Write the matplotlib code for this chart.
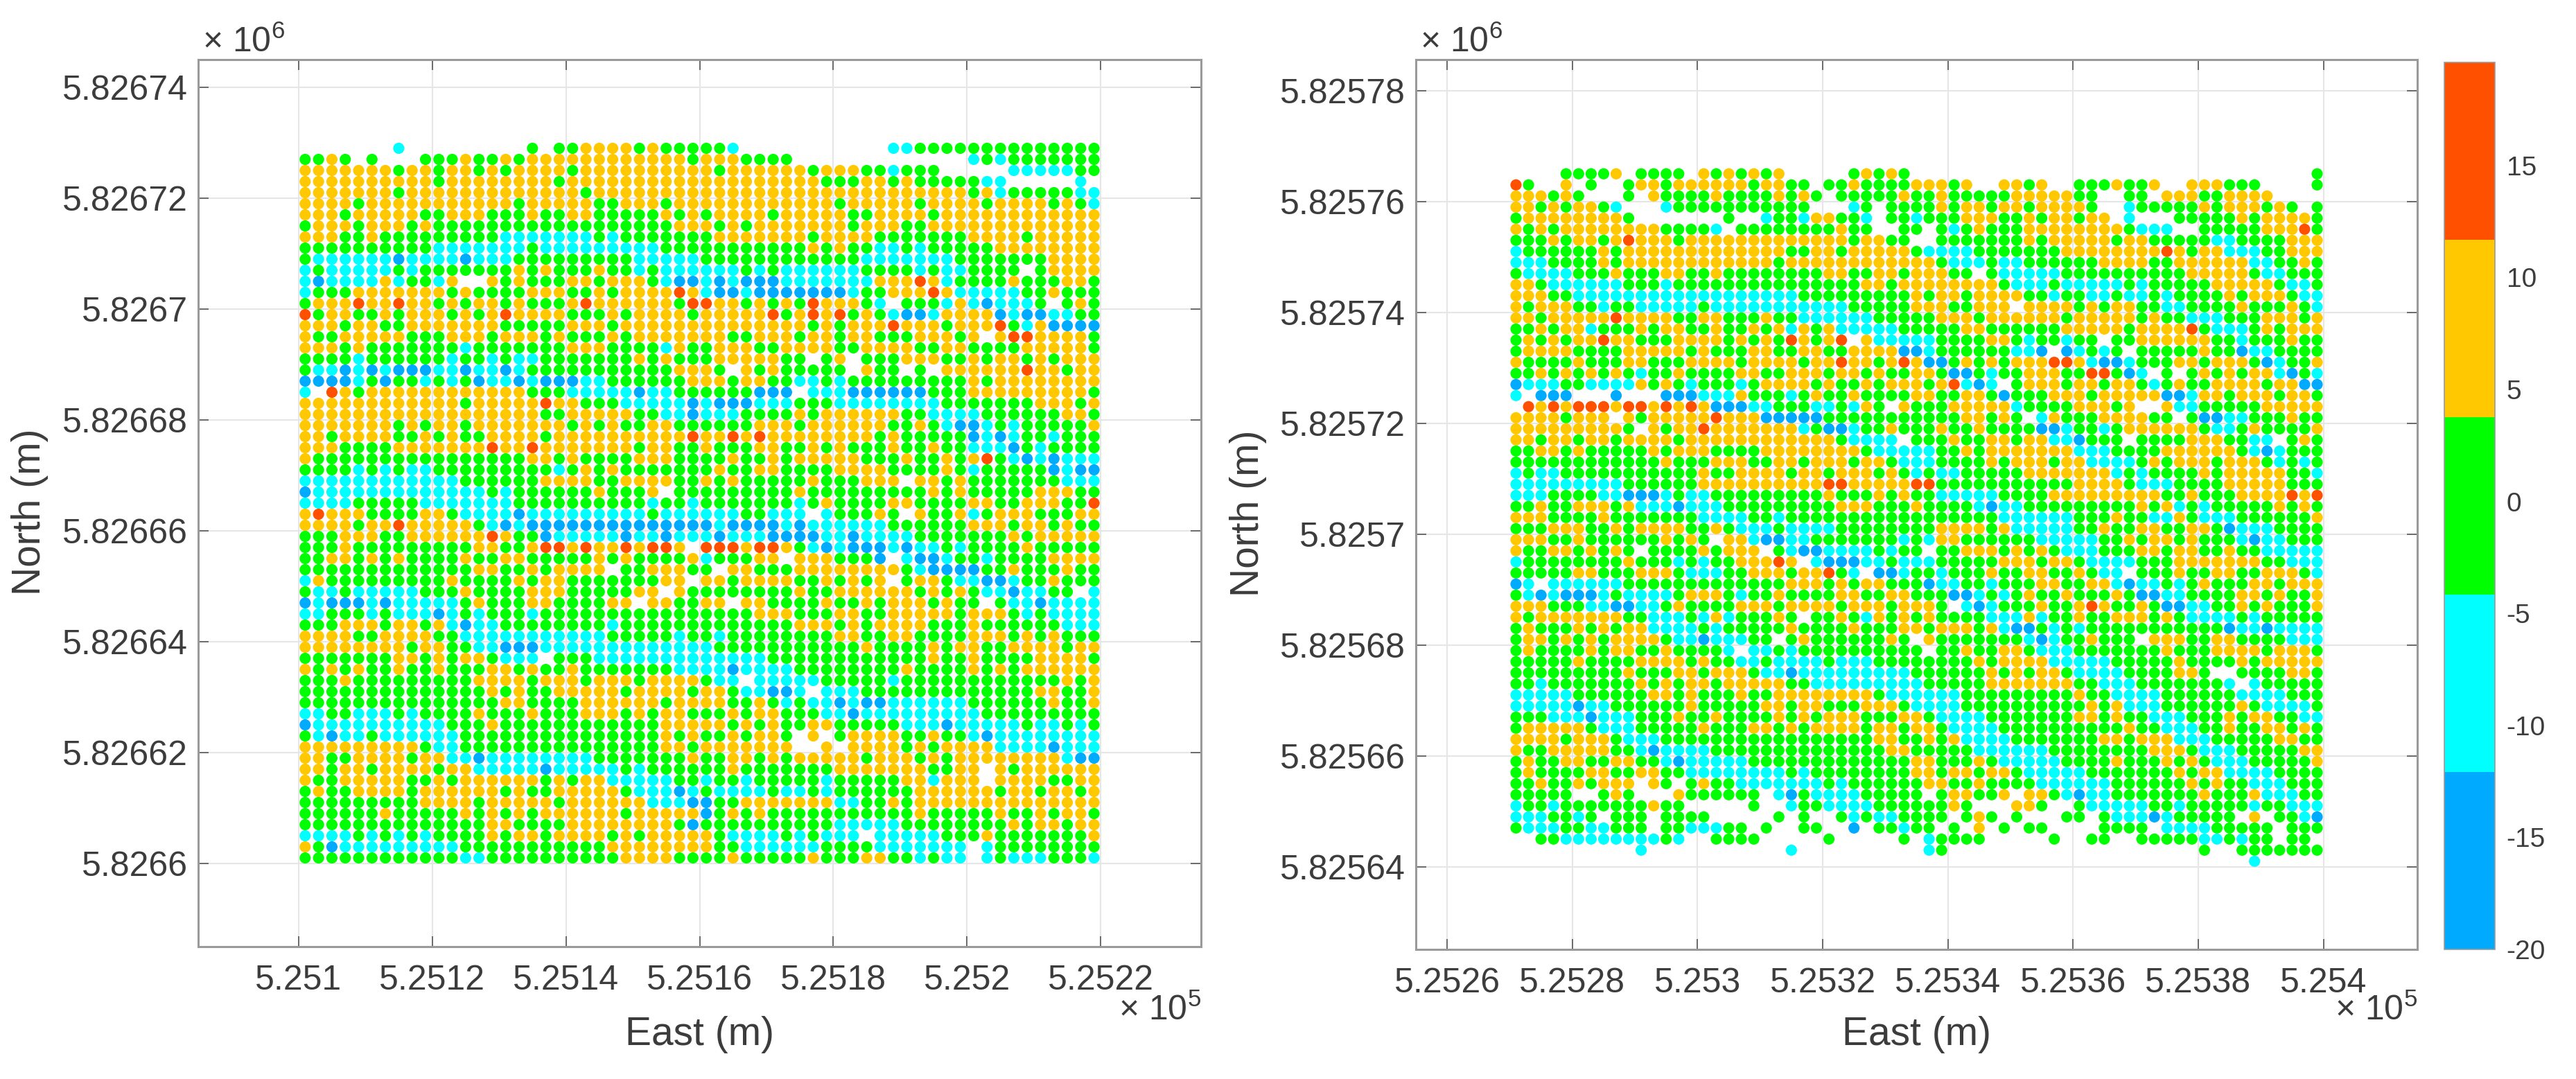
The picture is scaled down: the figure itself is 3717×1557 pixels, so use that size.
import re

import numpy as np
import matplotlib
matplotlib.use("Agg")
import matplotlib.pyplot as plt
from matplotlib.colors import ListedColormap

plt.rcParams["font.family"] = ["Liberation Sans", "DejaVu Sans"]
plt.rcParams["axes.unicode_minus"] = False

# survey rows, north to south, as run lengths per column
# g, y, c, b, r are the colour classes, a dot is a missing point
left_rows = [
    "7.c9.g.2g4ygy3g 2gc11.2c14g",
    "2gyg.g3.3gy2gyg12yg 3y4g13.cgc7g",
    "7yg2yg2ygyg4yg9y yg6yg3y2gc3g5.5c2g",
    "10yg8yg10y 9y3g2ygy5g2c5.c.",
    "7yg13yg8y 20ygyc5g2c",
    "4yg11yg5y2g3yg2y 10yg5yg4yg4ygygc",
    "3yg5y2g3y3gy2g2y5gygy g4yg5y2g4yg12y",
    "g3yg3ygy18g2y ygyg7yg3y2g13y",
    "3y2gy9g7cgc6g g7yg4y7g4yg5y",
    "10g7cg9c3g 8gygy2g2cgc5g8y",
    "g6cb4cb3c9g5c 12g7c7g4y",
    "cg5cgc7gyg y3gy2gcg3c 3cgcg6c4gcg2c4g.g4y",
    "cb4cyc2gcy2.ygy3g2yg3ygc2b cbc3b7c3yryc4gy3g2yg",
    "c3g7ygy4g3y2gyg4yry c2bc7bc2g3yry5c2gy3g",
    "g3yr2yr2ygyg2ygy3gyr6ygr r2ygygygr3ygc.3gcycb3cg.gyg",
    "rg2y2gyg3ygygyr4y3gyg4yg 5yrgyryrgygc2bc4ybc2b2c2g",
    "3yg2y2g7y5g3yg6y 8ygyg3yr3yg3yrgcy4b",
    "y2g5y3g3yg3ygy3gyg5y 2y2g3yg2yg2y3g3ygy.y2r4yg",
    "3ygy7gc7g3y4gcyg g3y2g4y2g4y2g2y4g5yg",
    "4gc6gc2gcg2c7gygy2g g5y2g.gy.3g3y2gyg2ygyg3y",
    "g2cbcbc3b2cb2cbc11g2y yg.ygy5g.y2g.g.6yr2yg2y",
    "4bcgb2gcgcgb2cbc3b2c6gy 2yg2y2g2cgc9gyg8y",
    "c.ryg12y3g5cb2c2g 4g3b.3c6b3g9yg",
    "12yg5yr2y3g5cb c3b3c3g8c7g3ygy",
    "18y2g5y2g2cb 3c4gyg6y2g4c6g2yg",
    "7ygyg2yg7ygygy2g2y2g 4g3yg6y2gygc2bcgc5gy",
    "2yg4y2gygy2g4yg10yr 2yryr8ygy5gbcbc2gc3g",
    "3y4g7yr2yr7yg2y2g y3g2y2gygy3gy2gy2g3cbgc4g",
    "y16g2ygy4g3y2g 2gy2gyg5y3gy2gygyrgcbcb3c",
    "4gcgcg2c9gcgygy6g gy2g2y4g4y4gygc5gbc2b",
    "12c6g4y2g4y2g ygy5gy3g3y.2ygy7g3c",
    "b13cgc6gy3gy.2g 7gy9gygy5g3y2g",
    "4c5g7c10gc2gc 7gcgy4g2y4g2y2g3y2gr",
    "yr3y4g2yg4cb9cg3c 3c2g3c.c3gyg.y2gycg3y3g2y",
    "4yg2yr5ygcbc13b bc4bcb6c6g3yg2ygy2g",
    "3g3y2g6yry2gb5cb2cb2c cb3c4b2cb4c7gyg5y",
    "3gy9g2y2gy2ryr2yry2ry. 3ry2rygcbc3bcb2cgc4gy5g",
    "2g2ygygy4gy2g2y5gygy4gy c3g2y.3y3gb.c2bc2gc4g4y",
    "13g2y2gyg4y.2g3yg g.2y3g8ygc4b2gy3gy2g",
    "cy9gy4gyg2y7g2y. 2yg4y2gygygy.g2yg2c2bc2gy3g",
    "g2cg5c3gy4g3y5g2y.yg 7gy2g6ygygyg2cb2c2g.c",
    "bc3bcb5cgy3g2y4g2y.2y2g 2y.2y4gy2gyg3ygy2g.g2cb4c",
    "2c3gcg3cbcgc3gc12g 4g3y3g2y2g5yg3ygcg4c",
    "3g3yg2ygycb2c8gc6g 7g3ygyg4y3gy6g3c",
    "4y2g4y2g11c5gcg gc8g2y2g2y4g3ygygy3g",
    "8yg2y2g2c3b12c c11gy4gyg2y2g4yg2y",
    "7g2ygyg2yg3c.3g8c 5c12gy2gy4g4yg",
    "ygygy2gy2gy3g2ygy2gy7g2c 2cb4c8gy4gygyg6y",
    "3gy9g4yg3yg3yg4y g2c.5c5gc12gygy",
    "14gygy2g5yg4yg 2yg2c2bc.3c13g2y2gy",
    "15g2y4g6yg2y 2y2gygcg2cbc2b6c6gy2gy",
    "2c2g3cgc4gy3gy3g3ygyg2yg 2gyg2y3g2cb9c9g",
    "b10c3gy12g3y 2ygygy2g2y5g3cb5cg2cgcg",
    "gcb2cg6c15gygy 2gyg2yg.y.g4y2gy2gcb8c",
    "9yg2c15g2yg 7y2.y.4ygyg4y4cb3c",
    "2y2g4yg2y2cb8c7gy 2g2ygyg5yg3ygyg8yc2b",
    "2yg2yg4yg2y5cb5cgc4g 2gy7g7y2g2y.yg6y",
    "y2g5y2gyg6ygyg2y5c2g c2gc5gc5g2yc3y.4y2g2y",
    "gy2g4yg6ygy2g5yg3cbc g4cg2cgc6g6yg2yg2ygy",
    "9g4yg5yg6y3cb b2g7y2c2gyg14y",
    "6gy5gygygyg6yg5y bgygy11gy5gy2gyg2yg",
    "14g2y4g8ygb 10g5c8gyg2yg2y",
    "4cgcgcgc4gyg2yg4ygyg4y yg4cgcg3c.5c3gy7gy",
    "ygb9c11g7y y2g6c4g7c.c8g",
    "12g2c10g4y2g 2gy5gy3g2y2gcg2c.cg3c3gc",
]

right_rows = [
    "4.4gy.4g.ygygygy5.gygyg 32.g",
    "rg2.y.g2.g2yg6yg2y2g.2gy4g 3ygy2.2ygy2.3gy2gy2.3y3g4.g",
    "3ygyg3.g.y4gy4gygyg.5gy 2gy5g5y2g2.2g.3y2g4y4.",
    "2ygyg2ygc3.c11g3.cg.2g 2gyg2yg2yg4yg2.c5gyg3ygyg.g",
    "g8yg7.g2.c2gc2y2gc.2g c3g3y2gyg2yg2y.c3.5gyg4yg",
    "ygyg8y4gc.8gy2g2.g g.gcgy3g8yg3c2.5g3yrg",
    "3gyg2ygyr3yg13yg2y2g 2.7gyg5yg2y5g2c4g3y",
    "c6gyg13y2g2yg5y g4c7g8yryg2y3c2g3y",
    "3c4gyg12yg10y 2yg3cg2c6g4y2g6y2c2gyg",
    "g4c3gy3g2y2gy8g2y2g2yg 3y2g.g5c10g5yg2c3g",
    "2yg6c3gc15g2ygy 7yg3cg5cgc5g5yg2cg",
    "3y2g18c9g yg2yg4y2gc2g2cg2cgc4gyg3yg2c",
    "yg3y2gc2g5cg11c5g 3y2g3y.4ygyg2y2g2c4gy3gygc",
    "2yg5yr4y2g2y3gy2g6c3g 2g3yg6yg5ygy2g3c3g3ygy",
    "2gyg2yc3gyg2y2gy2gygycygy5cg 4g2y6g5yg4yrg3cgyg3y",
    "gygyg2yr2y3g4ygygygrygyr.y3c 2c4g2ygc2gc2g.2g6y2gc3gy2g",
    "g4y4g5ygy3g2y2g2y2g4yb bc6g2cb.bcgcg.5gy2gb2c4g",
    "y4gy3g2y3g4yg4yg2yr2ygyr y2bgygyg3y2ryc2bc3g2yg3ygbc2gy",
    "2gygygygygc2gy4g2y2g3yg2ygy2g 2yg2bgc2g3y2g2rgbc.g.gygyg2ycbgc",
    "b3c2g4cygygc3gcg4ygy2gyg2y ygyrcbc.g3yg2yg2ygcgy2g4yg2y2b",
    "c.3b3.b3.3b3cy3gcgy2gy4g 2y2g2ygb3g3yg5y2bc2yg3yg2yg",
    ".ryry3ry2ryryry3b2c3g2cgcyg.y 3g5yc4g3ygy2.y2c5g5y",
    "4yg3y.yg5yr3y5b7g 4g2ygyg.cy3g4y2g.g2b2c3gy2g",
    "9yg.yg2yr7ycg2bc2gyg 2gy2gy4g2bc2gcg6yg2cgy4gy",
    "2yg2yg2yg4yg12yg4c. 3gy2g2yg2y2cb3g.4g3y2g2c.gyg",
    "2g2ygy5gyg3y4g8yg3c 2c2gyg7y3c4g6ygcbc3g",
    "12gy3g3y2g2yg3yg2ygc 2c4gyg3yg2y4cgyg3yg3ygcgcg",
    "cg2c11gy2g4yg2yg3ygyg cg2c5g7ycgc4gyg5y2gc",
    "9c6g10y2r5y 2r11g4yg3c4g5y3g",
    "3c4g2c3bcg2c9gy3gygy 2g5c4g9y2gy3g4yryr",
    "2gy2g3ygy3cb3c9g3y3g y4gcb2c9gygycgc5gygyg",
    "3y4gy7g4c2gc10g 7g6c3gy2g2cyg3c6gy",
    "3g3y2gyg4y2gyg3cg4c6g 2g4ygy5c2gy2g2y2g2ygb3c4g",
    "3y2gy6gygyg.2yc2b2c7gc gc2y6g5c2gyg2ygy3gcb2c3g",
    "y2g2ygygyg.4gyg3y.gc2b4cgcg g.2g3ygygyg3c3g2yg2y2gy2g5c",
    "c8gy3gcgc2g3yry.c3b2cgc 2c5g3yg2yg4c3g7y2g3c",
    "5g2y3g3yg3c2g3yg2yrgc.2bc 2gc3gy2g2y2gyg2c.3gy2g2y2g3ygc",
    "bc.6c13g3ygyg2y2g gb2c2gc3g2y2g2ycb2cgcgy3g2yg3y",
    "gcbc3bcg4cg3ygc2gy4g2y2g2y 3g2bcgcgy2gy3gyg2b2c4g2ygy2gy",
    "3y3g2c2b2cgy4g3yg4yg3ygy 2yg.cbc3gy2gyry2gyg2b2c2gygy3gy",
    "yg7y2g3cgcyc3gyg.2gygcygy gy4g3cyc2gy2g3ygyg4cgc5g",
    "gy3gygyg2y4cgc5gy4gy3gy yg3ygyc2bgcgc11gb2cb4c",
    "g2ygygyg4yg2cb3c2g.gy6gyg .y7gcbc2gy3g.3y2g2y4g3c",
    "gy4gyg2y2gy4gc.2cgc9g g.2gy2g2yg3c7gy3g4yg3yg",
    "5gy4g4ygy2g2cg4cg3c3g 5gyg4y5c5gy4gyg5y",
    "9gy3g2yg3yg2cb9c 6gygyg2yg4c4g2yg2.4g2yg",
    "2gc7gygyg2yg5y2g8c c5g7y2g3c7gc.c5g",
    "5c6g2ygy3gy2g8yg2c 4c9gy2g4c6g4c3g",
    "5cb2c6gy5g2yg2y3g3yg 4c10gygy3c6gyg4cg",
    "3g3cb3c3gy2gy4gygyg3y3gy yg4c7g2ygy2g3c3gyg2y2g2c",
    "g5yg3c5gy3g2ygyg4yg2yg 2yg4c10gy2g3c2gy2g2ygyg",
    "4yg3yg3c17g2yg gygy4c7g2yg3y3c5g2y2g",
    "y2g5y2gcb4c14g2y 5g6c8g3yg3c5g2y",
    "gy2g2y2g2y2gcb5c13g 2y3gyg5c4gy3gygyg3c5gy",
    "gy4g2y2g2y2g8cgc8g 2yg2yg2yg5c7gyg2y4c4g",
    "2gy2gyg3y.yg.gy2g7cgc5g g2y2gy4g6c6gygy2g3c3g",
    "5g2.gyg3.y6g.cbg4c4g g.g2y2gy.2ygcb2c7gy3gy3c2g",
    "c2gc7gy2g5.g2.c2g4c3g 3gyg3.2yg2.g5c2gc5gc2g3c",
    "3c2gcg.3g.4g5.g.g2.gcg2cg 3g.gyg.g3.2g.g3cbc5g.y.2gcb",
    "g3c2g2c3g.2g3c2g.g2.2g2.b.2gc 2g.g.y.g.2g4.4g.4c5g.3g",
    "2.2g8cgc2.4g5.g5.g .c4g5.g2.2g2.5g2cgc2g.2g.",
    "10.c11.c9. .cg20.g2.7g",
    "59.c5.",
]

class_values = {"b": -16.0, "c": -8.0, "g": 0.0, "y": 8.0, "r": 16.0}
band_colors = ["#00AAFF", "#00FFFF", "#00FF00", "#FFC800", "#FF5000"]

left_xticks = [525100, 525120, 525140, 525160, 525180, 525200, 525220]
left_xlabels = ["5.251", "5.2512", "5.2514", "5.2516", "5.2518", "5.252", "5.2522"]
left_yticks = [5826600, 5826620, 5826640, 5826660, 5826680, 5826700, 5826720, 5826740]
left_ylabels = ["5.8266", "5.82662", "5.82664", "5.82666", "5.82668", "5.8267", "5.82672", "5.82674"]
right_xticks = [525260, 525280, 525300, 525320, 525340, 525360, 525380, 525400]
right_xlabels = ["5.2526", "5.2528", "5.253", "5.2532", "5.2534", "5.2536", "5.2538", "5.254"]
right_yticks = [5825640, 5825660, 5825680, 5825700, 5825720, 5825740, 5825760, 5825780]
right_ylabels = ["5.82564", "5.82566", "5.82568", "5.8257", "5.82572", "5.82574", "5.82576", "5.82578"]
cbar_ticks = [-20, -15, -10, -5, 0, 5, 10, 15]

W, H = 3717, 1557
SPINE = "#9A9A9A"
TICK = "#555555"
TEXT = "#3C3C3C"


def decode(rows, east0, north0, width):
    # turn the run length rows into x, y, value arrays on the 2 m survey grid
    xs, ys, vals, bad = [], [], [], []
    for r, row in enumerate(rows):
        col = 0
        for count, ch in re.findall(r"(\d*)([gycbr.])", row):
            n = int(count) if count else 1
            if ch != ".":
                for i in range(n):
                    xs.append(east0 + 2 * (col + i))
                    ys.append(north0 - 2 * r)
                    vals.append(class_values[ch])
            col += n
        if col != width:
            bad.append((r, col))
    if bad:
        raise ValueError(f"rows with wrong width: {bad}")
    return np.array(xs), np.array(ys), np.array(vals)


def add_axes_px(fig, x0, y0, x1, y1):
    return fig.add_axes([x0 / W, 1 - y1 / H, (x1 - x0) / W, (y1 - y0) / H])


cmap = ListedColormap(band_colors)
fig = plt.figure(figsize=(W / 100, H / 100), dpi=100, facecolor="white")


def survey_panel(box, rows, east0, north0, width, xlim, ylim, xticks, xlabels, yticks, ylabels, ylabel_x):
    ax = add_axes_px(fig, *box)
    x, y, v = decode(rows, east0, north0, width)
    sc = ax.scatter(x, y, c=v, s=135, cmap=cmap, vmin=-20, vmax=19.6, linewidths=0, zorder=3)
    ax.set_xlim(*xlim)
    ax.set_ylim(*ylim)
    ax.set_xticks(xticks, xlabels)
    ax.set_yticks(yticks, ylabels)
    ax.grid(True, color="#E6E6E6", linewidth=1.5, zorder=0)
    ax.set_axisbelow(True)
    ax.tick_params(direction="in", length=11, width=1.2, color=TICK, labelsize=36,
                   labelcolor=TEXT, top=True, right=True)
    ax.tick_params(axis="x", pad=19)
    ax.tick_params(axis="y", pad=11)
    for spine in ax.spines.values():
        spine.set_color(SPINE)
        spine.set_linewidth(2.2)
    ax.set_xlabel("East (m)", fontsize=41, color=TEXT, va="center")
    ax.set_ylabel("North (m)", fontsize=41, color=TEXT, va="center")
    height = box[3] - box[1]
    ax.xaxis.set_label_coords(0.5, -(1493 - box[3]) / height)
    ax.yaxis.set_label_coords(ylabel_x, 0.49)
    # exponent notes sit by the far ends of the axes, as in the figure
    fig.text(box[2] / W, 1 - 1472 / H, "× 10$\\mathregular{^{5}}$", ha="right", va="baseline",
             fontsize=36, color=TEXT)
    fig.text((box[0] + 6) / W, 1 - 75 / H, "× 10$\\mathregular{^{6}}$", ha="left", va="baseline",
             fontsize=36, color=TEXT)
    return sc


survey_panel((286, 86, 1733, 1366), left_rows, 525101, 5826729, 60,
             (525085, 525235), (5826585, 5826745),
             left_xticks, left_xlabels, left_yticks, left_ylabels, -0.168)
sc = survey_panel((2043, 86, 3488, 1370), right_rows, 525271, 5825765, 65,
                  (525255, 525415), (5825625.1, 5825785.6),
                  right_xticks, right_xlabels, right_yticks, right_ylabels, -0.1675)

cax = add_axes_px(fig, 3527, 90, 3600, 1370)
cb = fig.colorbar(sc, cax=cax, ticks=cbar_ticks)
cb.ax.tick_params(length=0, labelsize=28, labelcolor=TEXT, pad=12)
cb.outline.set_edgecolor(SPINE)
cb.outline.set_linewidth(1.2)

fig.savefig("out.png", dpi=100)
